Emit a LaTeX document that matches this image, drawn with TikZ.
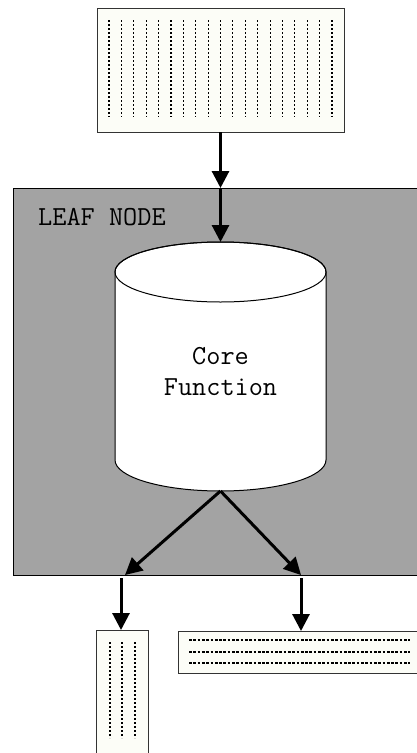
\documentclass[tikz,border=0pt]{standalone}
\usetikzlibrary{arrows.meta}
\definecolor{boxfill}{RGB}{252,253,247}
\definecolor{leafgray}{RGB}{163,163,163}
\tikzset{
  databox/.style={draw=black!80, line width=0.9pt, fill=boxfill},
  dotline/.style={line width=1.1pt, dash pattern=on 2pt off 2pt},
  hdotline/.style={line width=1.1pt, dash pattern=on 2.7pt off 1.6pt},
  flow/.style={line width=3pt, -{Triangle[length=17pt,width=17pt]}},
  lbl/.style={font=\fontsize{27.5}{31}\selectfont\ttfamily, inner sep=0pt}
}
\begin{document}
\begin{tikzpicture}[x=1pt,y=1pt]
\clip (0,0) rectangle (417,-753);
% top input box
\node[databox, minimum width=247pt, minimum height=124pt, inner sep=0pt] (inbox) at (220.5,-70) {};
\foreach \i in {0,...,18}{
  \draw[dotline] (109+\i*12.39,-20) -- (109+\i*12.39,-117);
}
% leaf node gray area
\node[draw=black, line width=1pt, fill=leafgray, minimum width=430pt, minimum height=387pt, inner sep=0pt, anchor=north west] (leaf) at (13,-188) {};
\node[lbl, anchor=base west] (leaflbl) at (38,-225) {LEAF NODE};
% cylinder
\coordinate (cyltop) at (220.5,-242);
\coordinate (cylbot) at (220.5,-491);
\filldraw[fill=white, draw=black, line width=1pt]
  (115,-272) -- (115,-460) arc[start angle=180, end angle=360, x radius=105.5, y radius=31]
  -- (326,-272) arc[start angle=0, end angle=180, x radius=105.5, y radius=30] -- cycle;
\draw[line width=1pt] (220.5,-272) ellipse[x radius=105.5, y radius=30];
\node[lbl, align=center] (core) at (220.5,-372) {Core\\Function};
% output boxes
\node[databox, minimum width=52pt, minimum height=140pt, inner sep=0pt, anchor=north west] (outL) at (96,-630) {};
\foreach \x in {110,122,135}{
  \draw[dotline] (\x,-642) -- (\x,-738);
}
\node[databox, minimum width=260pt, minimum height=42pt, inner sep=0pt, anchor=north west] (outR) at (178,-631) {};
\foreach \y in {640,652,663}{
  \draw[hdotline] (189,-\y) -- (410,-\y);
}
% connectors
\coordinate (leaftop) at (220.5,-188);
\coordinate (leafL) at (125,-575);
\coordinate (leafR) at (301,-575);
\coordinate (outLsrc) at (121,-578);
\coordinate (outRsrc) at (301,-578);
\draw[flow] (inbox.south -| leaftop) -- (leaftop);
\draw[flow] (leaftop) -- (cyltop);
\draw[flow] (cylbot) -- (leafL);
\draw[flow] (cylbot) -- (leafR);
\draw[flow] (outLsrc) -- (outLsrc |- outL.north);
\draw[flow] (outRsrc) -- (outRsrc |- outR.north);
\end{tikzpicture}
\end{document}
